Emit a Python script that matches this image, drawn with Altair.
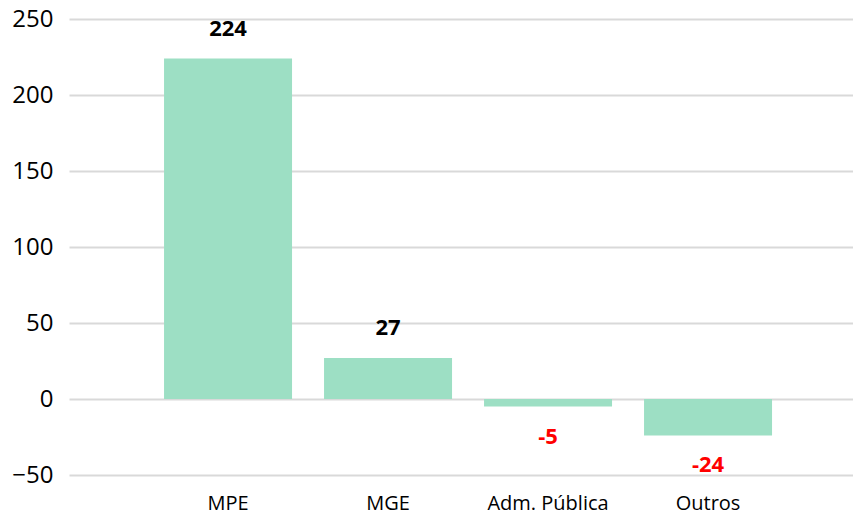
import altair as alt
import pandas as pd

categories = ["MPE", "MGE", "Adm. Pública", "Outros"]
values = [224, 27, -5, -24]
y_ticks = [-50, 0, 50, 100, 150, 200, 250]

df = pd.DataFrame({"cat": categories, "val": values})
df["label"] = df["val"].astype(str)

FONT = "Open Sans"

x = alt.X("cat:N", sort=categories, title=None,
          scale=alt.Scale(paddingInner=0.2, paddingOuter=0.55, align=0.54),
          axis=alt.Axis(labelAngle=0, labelFontSize=20, labelColor="#000000",
                        labelFont=FONT, domain=False, ticks=False, labelPadding=18))
y = alt.Y("val:Q", title=None,
          scale=alt.Scale(domain=[-50, 250], nice=False, zero=False),
          axis=alt.Axis(values=y_ticks, labelFontSize=24, labelColor="#000000",
                        labelFont=FONT, domain=False, ticks=False, labelPadding=16,
                        grid=True, gridColor="#d9d9d9", gridWidth=2))

base = alt.Chart(df)

bars = base.mark_bar(color="#9ddfc4").encode(x=x, y=y)

pos_labels = base.transform_filter("datum.val >= 0").mark_text(
    fontWeight="bold", fontSize=22, font=FONT, color="#000000", dy=-30, baseline="middle"
).encode(x=alt.X("cat:N", sort=categories), y="val:Q", text="label:N")

neg_labels = base.transform_filter("datum.val < 0").mark_text(
    fontWeight="bold", fontSize=22, font=FONT, color="#ff0000", dy=30, baseline="middle"
).encode(x=alt.X("cat:N", sort=categories), y="val:Q", text="label:N")

chart = alt.layer(bars, pos_labels, neg_labels).properties(
    width=784, height=456,
    autosize=alt.AutoSizeParams(type="none"),
    padding={"left": 61, "top": 11, "right": 0, "bottom": 39},
).configure_view(stroke=None)

chart.save("out.html", embed_options={"renderer": "svg", "actions": False})
